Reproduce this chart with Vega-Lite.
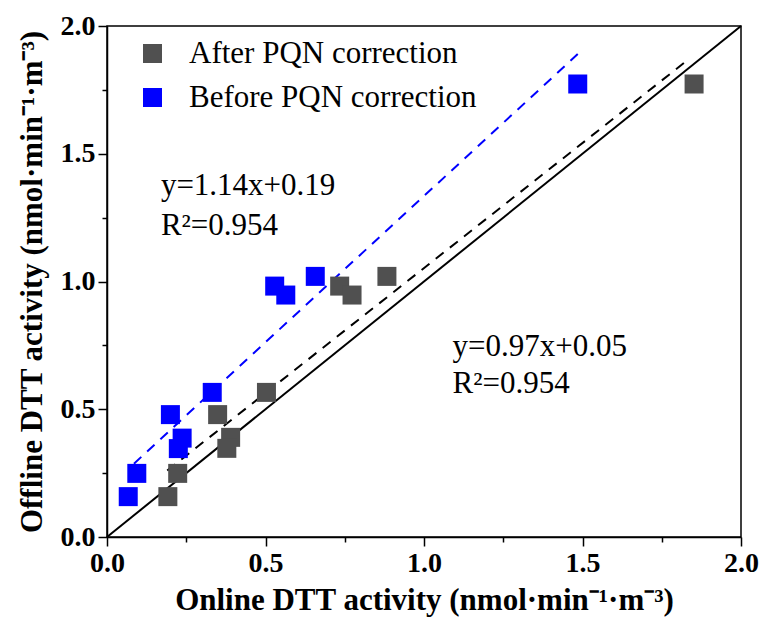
{
  "$schema": "https://vega.github.io/schema/vega-lite/v6.json",
  "autosize": "none",
  "width": 634,
  "height": 511,
  "padding": {"left": 107, "top": 26, "right": 23, "bottom": 82},
  "background": "white",
  "config": {
    "view": {"stroke": "black", "strokeWidth": 1.5},
    "font": "Liberation Serif"
  },
  "datasets": {
    "pts": [
      {"x": 1.852, "y": 1.773, "group": "After PQN correction"},
      {"x": 0.883, "y": 1.020, "group": "After PQN correction"},
      {"x": 0.734, "y": 0.982, "group": "After PQN correction"},
      {"x": 0.773, "y": 0.947, "group": "After PQN correction"},
      {"x": 0.503, "y": 0.566, "group": "After PQN correction"},
      {"x": 0.349, "y": 0.479, "group": "After PQN correction"},
      {"x": 0.390, "y": 0.390, "group": "After PQN correction"},
      {"x": 0.378, "y": 0.347, "group": "After PQN correction"},
      {"x": 0.223, "y": 0.249, "group": "After PQN correction"},
      {"x": 0.192, "y": 0.158, "group": "After PQN correction"},
      {"x": 1.485, "y": 1.773, "group": "Before PQN correction"},
      {"x": 0.657, "y": 1.020, "group": "Before PQN correction"},
      {"x": 0.529, "y": 0.982, "group": "Before PQN correction"},
      {"x": 0.564, "y": 0.947, "group": "Before PQN correction"},
      {"x": 0.332, "y": 0.566, "group": "Before PQN correction"},
      {"x": 0.200, "y": 0.479, "group": "Before PQN correction"},
      {"x": 0.237, "y": 0.387, "group": "Before PQN correction"},
      {"x": 0.225, "y": 0.346, "group": "Before PQN correction"},
      {"x": 0.094, "y": 0.249, "group": "Before PQN correction"},
      {"x": 0.067, "y": 0.158, "group": "Before PQN correction"}
    ],
    "identity": [{"x": 0, "y": 0}, {"x": 2, "y": 2}],
    "fitAfter": [{"x": 0.19, "y": 0.26}, {"x": 1.83, "y": 1.865}],
    "fitBefore": [{"x": 0.085, "y": 0.287}, {"x": 1.485, "y": 1.89}],
    "notes": [
      {"x": 0.17, "y": 1.374, "label": "y=1.14x+0.19"},
      {"x": 0.17, "y": 1.217, "label": "R²=0.954"},
      {"x": 1.09, "y": 0.744, "label": "y=0.97x+0.05"},
      {"x": 1.09, "y": 0.599, "label": "R²=0.954"}
    ]
  },
  "resolve": {"axis": {"x": "independent", "y": "independent"}},
  "layer": [
    {
      "data": {"name": "identity"},
      "mark": {"type": "line", "color": "black", "strokeWidth": 2},
      "encoding": {
        "x": {"field": "x", "type": "quantitative", "scale": {"domain": [0, 2], "nice": false},
          "axis": {"orient": "bottom", "values": [0.25, 0.75, 1.25, 1.75], "labels": false, "title": null, "domain": false, "grid": false, "tickSize": 5, "tickColor": "black", "tickWidth": 1.5}},
        "y": {"field": "y", "type": "quantitative", "scale": {"domain": [0, 2], "nice": false},
          "axis": {"orient": "left", "values": [0.25, 0.75, 1.25, 1.75], "labels": false, "title": null, "domain": false, "grid": false, "tickSize": 5, "tickColor": "black", "tickWidth": 1.5}}
      }
    },
    {
      "data": {"name": "fitAfter"},
      "mark": {"type": "line", "color": "black", "strokeWidth": 2, "strokeDash": [10, 8]},
      "encoding": {
        "x": {"field": "x", "type": "quantitative", "axis": null},
        "y": {"field": "y", "type": "quantitative", "axis": null}
      }
    },
    {
      "data": {"name": "fitBefore"},
      "mark": {"type": "line", "color": "#0000ff", "strokeWidth": 2, "strokeDash": [10, 8]},
      "encoding": {
        "x": {"field": "x", "type": "quantitative", "axis": null},
        "y": {"field": "y", "type": "quantitative", "axis": null}
      }
    },
    {
      "data": {"name": "pts"},
      "mark": {"type": "square", "size": 361, "opacity": 1, "filled": true},
      "encoding": {
        "x": {"field": "x", "type": "quantitative",
          "axis": {"orient": "bottom", "values": [0, 0.5, 1, 1.5, 2], "format": ".1f", "grid": false, "domainColor": "black", "domainWidth": 1.5, "tickColor": "black", "tickWidth": 1.5, "tickSize": 9, "labelFont": "Liberation Serif", "labelFontSize": 28, "labelFontWeight": "bold", "labelColor": "black", "labelPadding": 3, "labelFlush": false,
            "title": "Online DTT activity (nmol·min⁻¹·m⁻³)", "titleFont": "Liberation Serif", "titleFontSize": 31, "titleFontWeight": "bold", "titleColor": "black", "titlePadding": 8}},
        "y": {"field": "y", "type": "quantitative",
          "axis": {"orient": "left", "values": [0, 0.5, 1, 1.5, 2], "format": ".1f", "grid": false, "domainColor": "black", "domainWidth": 1.5, "tickColor": "black", "tickWidth": 1.5, "tickSize": 9, "labelFont": "Liberation Serif", "labelFontSize": 28, "labelFontWeight": "bold", "labelColor": "black", "labelPadding": 3, "labelFlush": false,
            "title": "Offline DTT activity (nmol·min⁻¹·m⁻³)", "titleFont": "Liberation Serif", "titleFontSize": 31, "titleFontWeight": "bold", "titleColor": "black", "titlePadding": 12}},
        "color": {"field": "group", "type": "nominal",
          "scale": {"domain": ["After PQN correction", "Before PQN correction"], "range": ["#505050", "#0000ff"]},
          "legend": {"title": null, "orient": "none", "legendX": 30, "legendY": 12, "padding": 0, "symbolType": "square", "symbolSize": 361, "symbolOpacity": 1, "symbolStrokeWidth": 0, "labelFont": "Liberation Serif", "labelFontSize": 31, "labelColor": "black", "labelOffset": 21, "rowPadding": 12, "labelLimit": 400}}
      }
    },
    {
      "data": {"name": "notes"},
      "mark": {"type": "text", "align": "left", "baseline": "middle", "fontSize": 31, "font": "Liberation Serif", "color": "black"},
      "encoding": {
        "x": {"field": "x", "type": "quantitative", "axis": null},
        "y": {"field": "y", "type": "quantitative", "axis": null},
        "text": {"field": "label"}
      }
    }
  ]
}
